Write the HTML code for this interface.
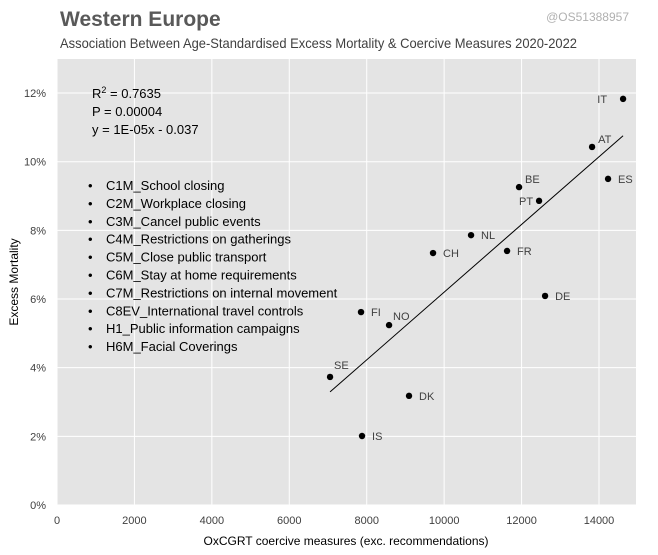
<!DOCTYPE html>
<html><head><meta charset="utf-8"><style>
body{margin:0;background:#fff;}
svg{display:block;font-family:"Liberation Sans Narrow","Liberation Sans",sans-serif;}
</style></head><body>
<svg id="c" width="658" height="555" viewBox="0 0 658 555">
<text x="60" y="26" font-size="21" font-weight="bold" fill="#595959">Western Europe</text>
<text x="629" y="21" font-size="12" fill="#b0b0b0" text-anchor="end">@OS51388957</text>
<text x="60" y="48" font-size="14" fill="#404040" textLength="517" lengthAdjust="spacingAndGlyphs">Association Between Age-Standardised Excess Mortality &amp; Coercive Measures 2020-2022</text>
<rect x="57" y="59" width="579" height="446" fill="#e4e4e4"/>
<g id="grid"></g>
<g id="ticks" font-size="11" fill="#404040"></g>
<g id="trend"></g>
<g id="pts" font-size="11" fill="#404040"></g>
<g font-size="13" fill="#000">
<text x="92" y="98">R<tspan font-size="9" dy="-5">2</tspan><tspan dy="5"> = 0.7635</tspan></text>
<text x="92" y="116">P = 0.00004</text>
<text x="92" y="134">y = 1E-05x - 0.037</text>
</g>
<g id="measures" font-size="13" fill="#000"></g>
<text x="346" y="545" font-size="12" fill="#000" text-anchor="middle">OxCGRT coercive measures (exc. recommendations)</text>
<text transform="translate(18,282) rotate(-90)" font-size="12" fill="#000" text-anchor="middle">Excess Mortality</text>
</svg>
<script>
const countries=["IT","AT","ES","BE","PT","NL","FR","CH","DE","FI","NO","SE","DK","IS"];
const measureVals=[14622,13821,14234,11935,12452,10695,11625,9713,12607,7853,8577,7053,9093,7879];
const mortality=[0.1183,0.1043,0.0950,0.0926,0.0886,0.0786,0.0740,0.0734,0.0609,0.0562,0.0524,0.0373,0.0318,0.0201];
const xTicks=[0,2000,4000,6000,8000,10000,12000,14000];
const yTicks=[0,0.02,0.04,0.06,0.08,0.10,0.12];
const measures=["C1M_School closing","C2M_Workplace closing","C3M_Cancel public events","C4M_Restrictions on gatherings","C5M_Close public transport","C6M_Stay at home requirements","C7M_Restrictions on internal movement","C8EV_International travel controls","H1_Public information campaigns","H6M_Facial Coverings"];
const trendSlope=0.00000986, trendIntercept=-0.0366;
const NS="http://www.w3.org/2000/svg";
const X=v=>57+v*542/14000, Y=v=>505-v*100*34.33;
function mk(t,a,p){const e=document.createElementNS(NS,t);for(const k in a)e.setAttribute(k,a[k]);p.appendChild(e);return e;}
const grid=document.getElementById('grid'),ticks=document.getElementById('ticks');
xTicks.forEach(v=>{const l=mk('line',{x1:X(v),x2:X(v),y1:59,y2:505,stroke:'#fff','stroke-width':1},grid);

const t=mk('text',{x:X(v),y:524,'text-anchor':'middle'},ticks);t.textContent=v;
});
yTicks.forEach(v=>{const l=mk('line',{x1:57,x2:636,y1:Y(v),y2:Y(v),stroke:'#fff','stroke-width':1},grid);

const t=mk('text',{x:46,y:Y(v)+4,'text-anchor':'end'},ticks);t.textContent=Math.round(v*100)+'%';
});
const xmin=Math.min(...measureVals),xmax=Math.max(...measureVals);
const tl=mk('line',{x1:X(xmin),y1:Y(trendSlope*xmin+trendIntercept),x2:X(xmax),y2:Y(trendSlope*xmax+trendIntercept),stroke:'#000','stroke-width':1},document.getElementById('trend'));

const pts=document.getElementById('pts');
const off={IT:[-16,4,'end'],PT:[-6,4,'end'],AT:[6,-4,'start'],BE:[6,-4,'start'],SE:[4,-8,'start'],NO:[4,-5,'start'],FI:[10,4,'start'],IS:[10,4,'start']};
countries.forEach((c,i)=>{const cx=X(measureVals[i]),cy=Y(mortality[i]);
const d=mk('circle',{cx:cx,cy:cy,r:3.2,fill:'#000'},pts);

const o=off[c]||[10,4,'start'];
const t=mk('text',{x:cx+o[0],y:cy+o[1],'text-anchor':o[2]},pts);t.textContent=c;
});
const ml=document.getElementById('measures');
measures.forEach((m,i)=>{const y=190+i*17.9;
const b=mk('text',{x:88,y:y},ml);b.textContent='•';

const t=mk('text',{x:106,y:y},ml);t.textContent=m;
});
</script>
</body></html>
